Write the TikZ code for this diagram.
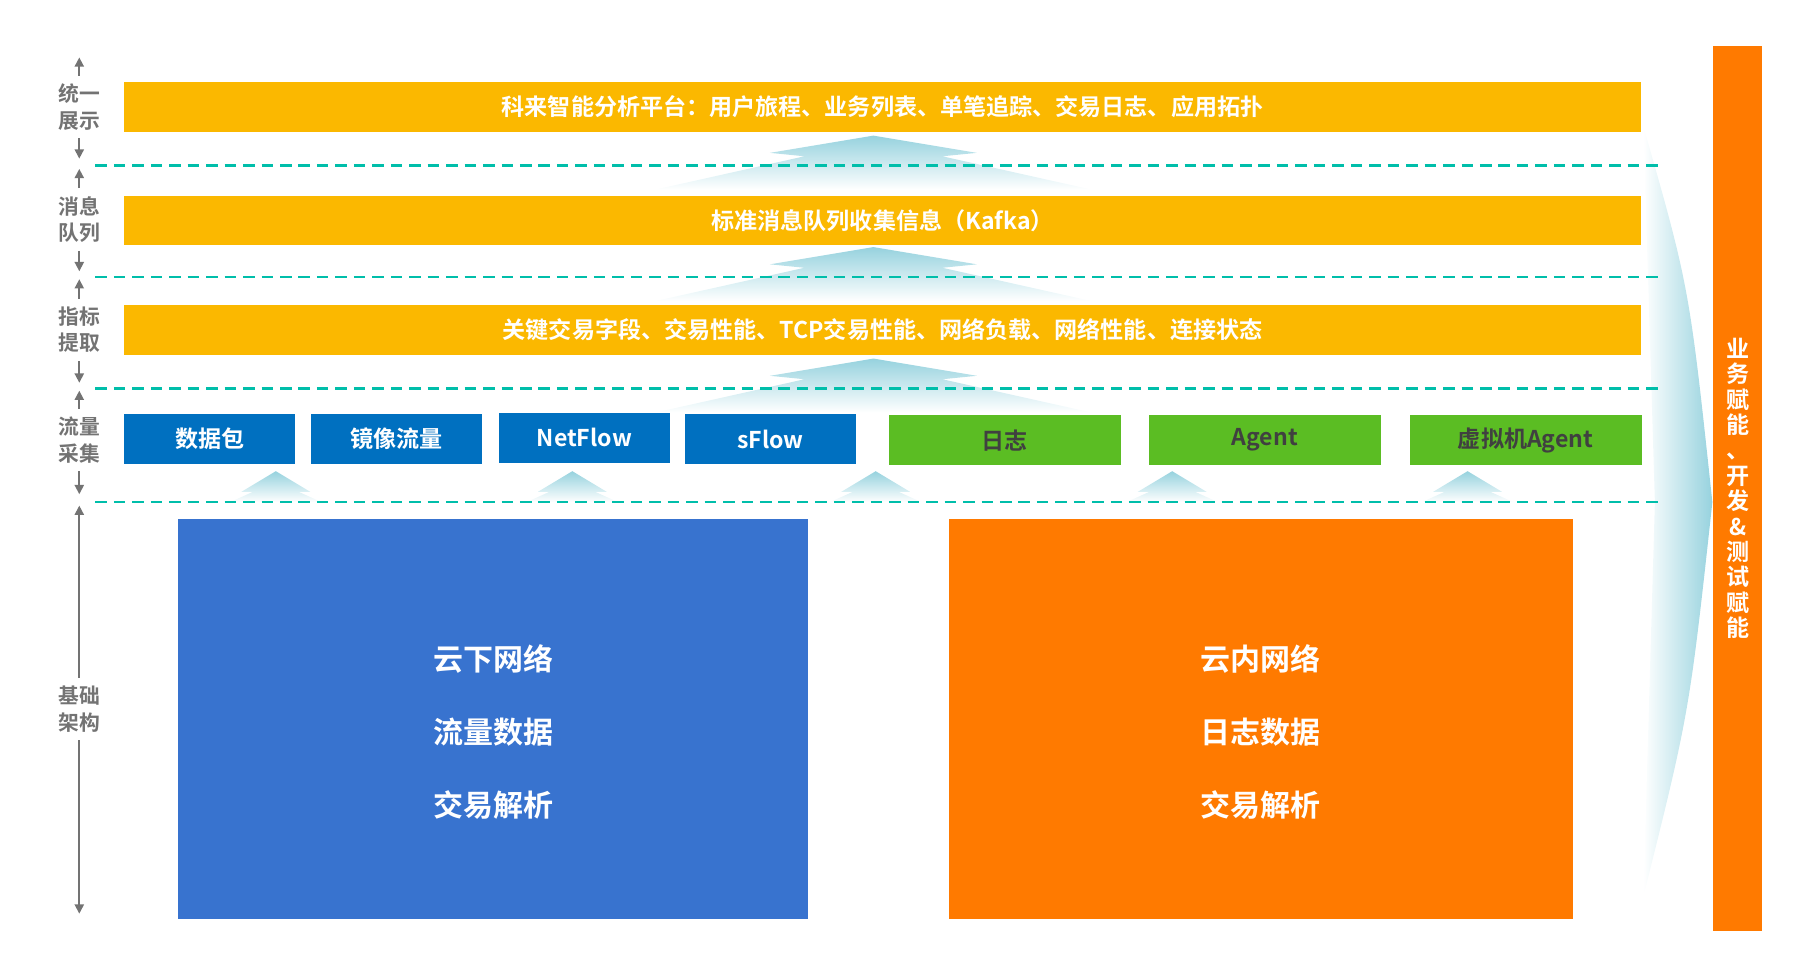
\documentclass[tikz,border=0pt]{standalone}
\usepackage{fontspec}
\setmainfont{Noto Sans CJK SC}[BoldFont={Noto Sans CJK SC Bold}]
\usetikzlibrary{positioning,fadings,arrows.meta}
\definecolor{barY}{RGB}{251,184,0}
\definecolor{boxB}{RGB}{0,112,192}
\definecolor{boxG}{RGB}{91,189,35}
\definecolor{bigB}{RGB}{56,115,207}
\definecolor{bigO}{RGB}{255,122,0}
\definecolor{sepC}{RGB}{0,190,170}
\definecolor{flow}{RGB}{150,210,222}
\begin{document}
\begin{tikzpicture}[x=0.498pt,y=-0.498pt,
  bar/.style={fill=barY,minimum width=657.4pt,minimum height=21.4pt,inner sep=0pt,text=white,font=\bfseries\fontsize{10}{12}\selectfont},
  blu/.style={fill=boxB,minimum width=74.2pt,minimum height=21.9pt,inner sep=0pt,text=white,font=\bfseries\fontsize{10}{12}\selectfont},
  grn/.style={fill=boxG,minimum width=100.6pt,minimum height=21.9pt,inner sep=0pt,text=black!75,font=\bfseries\fontsize{10}{12}\selectfont},
  big/.style={minimum height=173.3pt,inner sep=0pt,text=white,align=center,font=\bfseries\fontsize{13}{31.5}\selectfont},
  lvl/.style={text=black!55,align=center,font=\bfseries\fontsize{9}{11.5}\selectfont},
  axis/.style={draw=black!55,line width=0.7pt,-{Triangle[length=4pt,width=4pt]}},
  up/.style={fill=flow,path fading=south}]
\useasboundingbox (0,0) rectangle (1566.3,842.5);
% flow arrows between layers
\foreach \y in {118,215,312}
  \fill[up] (760,\y) -- (850,\y+15) -- (820,\y+18) -- (950,\y+47) -- (570,\y+47) -- (700,\y+18) -- (670,\y+15) -- cycle;
\foreach \x in {240,498,762,1020,1277}
  \fill[up] (\x,410) -- (\x+30,428) -- (\x+20,428) -- (\x+40,437) -- (\x-40,437) -- (\x-20,428) -- (\x-30,428) -- cycle;
% big right arrow
\fill[flow,path fading=west] (1430,110) .. controls (1470,250) .. (1490,437) .. controls (1470,620) .. (1430,780) -- (1440,437) -- cycle;
% dashed separators
\foreach \y in {144,241,338,437}
  \draw[sepC,line width=1pt,dash pattern=on 5pt off 3pt] (83,\y) -- (1443,\y);
% layers
\node[bar] (show) at (768,93) {科来智能分析平台：用户旅程、业务列表、单笔追踪、交易日志、应用拓扑};
\node[bar] (mq) at (768,192) {标准消息队列收集信息（Kafka）};
\node[bar] (kpi) at (768,287) {关键交易字段、交易性能、TCP交易性能、网络负载、网络性能、连接状态};
\node[blu] (pkt) at (182.5,382) {数据包};
\node[blu] (mirror) at (345,382) {镜像流量};
\node[blu] (nf) at (508.5,381) {NetFlow};
\node[blu] (sf) at (670.5,382) {sFlow};
\node[grn] (log) at (874.5,383) {日志};
\node[grn] (agent) at (1100.5,383) {Agent};
\node[grn] (vm) at (1327.5,383) {虚拟机Agent};
\node[big,fill=bigB,minimum width=273pt] (off) at (429,626) {};
\node[big,fill=bigO,minimum width=270.4pt] (on) at (1097,626) {};
\node[big] (offtxt) at (429,637) {云下网络\\流量数据\\交易解析};
\node[big] (ontxt) at (1097,637) {云内网络\\日志数据\\交易解析};
\node[fill=bigO,minimum width=21pt,minimum height=383.5pt,inner sep=0pt,text=white,align=center,
  font=\bfseries\fontsize{10}{11}\selectfont] (enable) at (1512,425)
  {业\\务\\赋\\能\\、\\开\\发\\\&\\测\\试\\赋\\能};
% level labels
\node[lvl] (l1) at (69,93) {统一\\展示};
\node[lvl] (l2) at (69,191) {消息\\队列};
\node[lvl] (l3) at (69,287) {指标\\提取};
\node[lvl] (l4) at (69,383) {流量\\采集};
\node[lvl] (l5) at (69,617) {基础\\架构};
\foreach \n/\t/\b in {l1/50/138,l2/147/236,l3/243/333,l4/340/430} {
  \draw[axis] (\n.north) -- (69,\t);
  \draw[axis] (\n.south) -- (69,\b);
}
\draw[axis] (l5.north) -- (69,440);
\draw[axis] (l5.south) -- (69,795);
\end{tikzpicture}
\end{document}
